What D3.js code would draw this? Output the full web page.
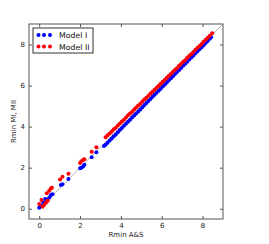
<!DOCTYPE html>
<html>
<head>
<meta charset="utf-8">
<script src="https://cdn.jsdelivr.net/npm/d3@7"></script>
<style>
body { margin: 0; background: #fff; }
text { font-family: "DejaVu Sans", sans-serif; }
</style>
</head>
<body>
<svg id="plot1"></svg>
<script>
var xTicks = [0, 2, 4, 6, 8];
var yTicks = [0, 2, 4, 6, 8];
var seriesNames = ['Model I', 'Model II'];

// Model I (blue): [Rmin A&S, Rmin MI]
var modelI = [
  [0.0,0.05],[0.1,0.15],[0.2,0.3],[0.29,0.47],[0.4,0.45],[0.5,0.55],[0.57,0.67],[0.65,0.7],
  [1.06,1.16],[1.14,1.19],[1.43,1.45],
  [2.0,1.97],[2.06,2.0],[2.15,2.06],[2.21,2.14],[2.57,2.51],[2.8,2.75],[3.17,3.06],
  [3.25,3.12],[3.35,3.22],[3.45,3.33],[3.55,3.42],[3.65,3.53],[3.75,3.62],[3.85,3.73],[3.95,3.83],
  [4.05,3.93],[4.15,4.04],[4.25,4.14],[4.35,4.24],[4.45,4.34],[4.55,4.44],[4.65,4.54],[4.75,4.64],
  [4.85,4.74],[4.95,4.84],[5.05,4.95],[5.15,5.05],[5.25,5.15],[5.35,5.25],[5.45,5.35],[5.55,5.45],
  [5.65,5.55],[5.75,5.65],[5.85,5.75],[5.95,5.85],[6.05,5.95],[6.15,6.05],[6.25,6.15],[6.35,6.26],
  [6.45,6.36],[6.55,6.46],[6.65,6.56],[6.75,6.66],[6.85,6.76],[6.95,6.86],[7.05,6.96],[7.15,7.06],
  [7.25,7.16],[7.35,7.27],[7.45,7.37],[7.55,7.47],[7.65,7.57],[7.75,7.67],[7.85,7.77],[7.95,7.87],
  [8.05,7.97],[8.15,8.07],[8.25,8.17],[8.35,8.28],[8.42,8.35]
];

// Model II (red): [Rmin A&S, Rmin MII]
var modelII = [
  [0.0,0.23],[0.11,0.42],[0.16,0.1],[0.24,0.18],[0.33,0.29],[0.42,0.39],[0.37,0.75],[0.49,0.88],[0.57,0.98],[0.62,1.02],
  [1.02,1.43],[1.14,1.56],[1.43,1.71],
  [2.0,2.23],[2.06,2.31],[2.15,2.38],[2.21,2.41],[2.57,2.78],[2.8,2.99],
  [3.25,3.48],[3.35,3.58],[3.45,3.66],[3.55,3.76],[3.65,3.87],[3.75,3.95],[3.85,4.05],[3.95,4.15],
  [4.05,4.25],[4.15,4.34],[4.25,4.44],[4.35,4.55],[4.45,4.64],[4.55,4.73],[4.65,4.84],[4.75,4.93],
  [4.85,5.03],[4.95,5.12],[5.05,5.22],[5.15,5.32],[5.25,5.41],[5.35,5.51],[5.45,5.61],[5.55,5.7],
  [5.65,5.8],[5.75,5.9],[5.85,5.99],[5.95,6.09],[6.05,6.19],[6.15,6.28],[6.25,6.38],[6.35,6.48],
  [6.45,6.57],[6.55,6.67],[6.65,6.77],[6.75,6.86],[6.85,6.96],[6.95,7.06],[7.05,7.16],[7.15,7.25],
  [7.25,7.35],[7.35,7.45],[7.45,7.54],[7.55,7.64],[7.65,7.74],[7.75,7.84],[7.85,7.93],[7.95,8.03],
  [8.05,8.13],[8.15,8.23],[8.25,8.33],[8.35,8.43],[8.47,8.55]
];

var diag = [[0, 0], [9, 9]];

function init() {
  var w = 269, h = 244;
  var left = 29, top = 24, right = 223, bottom = 219;
  var xs = d3.scaleLinear().domain([-0.5, 9]).range([left, right]);
  var ys = d3.scaleLinear().domain([-0.5, 9]).range([bottom, top]);
  var clrs = {'Model I': '#0000ff', 'Model II': '#ff0000'};

  var svg = d3.select('#plot1').attr('width', w).attr('height', h);

  // diagonal reference line
  svg.append('line')
    .attr('x1', xs(diag[0][0])).attr('y1', ys(diag[0][1]))
    .attr('x2', xs(diag[1][0])).attr('y2', ys(diag[1][1]))
    .attr('stroke', '#b0b0b0').attr('stroke-width', 1);

  var g = svg.append('g');
  g.selectAll('circle.m1').data(modelI).enter().append('circle')
    .attr('cx', function(d) { return xs(d[0]); })
    .attr('cy', function(d) { return ys(d[1]); })
    .attr('r', 2).attr('fill', clrs['Model I']);
  g.selectAll('circle.m2').data(modelII).enter().append('circle')
    .attr('cx', function(d) { return xs(d[0]); })
    .attr('cy', function(d) { return ys(d[1]); })
    .attr('r', 2).attr('fill', clrs['Model II']);

  // axes, ticks pointing inward on all four sides
  var fs = 7;
  var ax = [
    d3.axisBottom(xs).tickValues(xTicks).tickSize(-3).tickPadding(4),
    d3.axisTop(xs).tickValues(xTicks).tickSize(-3).tickFormat(''),
    d3.axisLeft(ys).tickValues(yTicks).tickSize(-3).tickPadding(4),
    d3.axisRight(ys).tickValues(yTicks).tickSize(-3).tickFormat('')
  ];
  var pos = ['translate(0,' + bottom + ')', 'translate(0,' + top + ')',
             'translate(' + left + ',0)', 'translate(' + right + ',0)'];
  ax.forEach(function(a, i) {
    var ga = svg.append('g').attr('transform', pos[i]).call(a);
    ga.select('.domain').remove();
    ga.selectAll('line').attr('stroke', '#555');
    ga.selectAll('text').attr('font-size', fs).attr('fill', '#222')
      .style('font-family', '"DejaVu Sans", sans-serif');
  });
  svg.append('rect')
    .attr('x', left).attr('y', top)
    .attr('width', right - left).attr('height', bottom - top)
    .attr('fill', 'none').attr('stroke', '#555').attr('stroke-width', 1);

  svg.append('text').attr('x', (left + right) / 2).attr('y', 237)
    .attr('text-anchor', 'middle').attr('font-size', 7).attr('fill', '#222')
    .text('Rmin A&S');
  svg.append('text').attr('transform', 'translate(16,' + ((top + bottom) / 2) + ') rotate(-90)')
    .attr('text-anchor', 'middle').attr('font-size', 7).attr('fill', '#222')
    .text('Rmin MI, MII');

  // legend
  var lg = svg.append('g');
  lg.append('rect').attr('x', 33).attr('y', 28).attr('width', 60).attr('height', 25)
    .attr('fill', '#fff').attr('stroke', '#333').attr('stroke-width', 1);
  seriesNames.forEach(function(name, i) {
    var yy = 35 + i * 11.5;
    [38.5, 44, 50].forEach(function(xx) {
      lg.append('circle').attr('cx', xx).attr('cy', yy).attr('r', 2).attr('fill', clrs[name]);
    });
    lg.append('text').attr('x', 59).attr('y', yy + 3).attr('font-size', 7.8)
      .attr('fill', '#111').text(name);
  });
}
init();
</script>
</body>
</html>
